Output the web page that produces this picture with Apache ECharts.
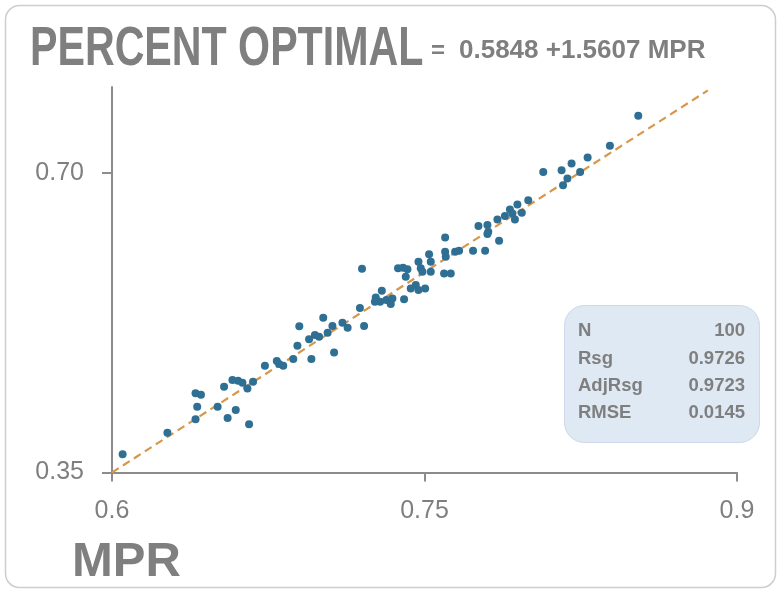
<!DOCTYPE html>
<html>
<head>
<meta charset="utf-8">
<script src="https://cdn.jsdelivr.net/npm/echarts@6/dist/echarts.min.js"></script>
<style>
html,body{margin:0;padding:0;background:#fff;}
#chart{width:779px;height:591px;}
</style>
</head>
<body>
<div id="chart"></div>
<script>
// ---- data ----
const mpr = [0.6051,0.6266,0.6401,0.6409,0.6401,0.6427,0.6507,0.6555,0.6594,0.6538,
  0.6578,0.6605,0.6626,0.6650,0.6658,0.6677,0.6734,0.6791,0.6802,0.6822,
  0.6870,0.6890,0.6957,0.6899,0.6946,0.6974,0.6994,0.7014,0.7035,0.7058,
  0.7066,0.7106,0.7131,0.7190,0.7210,0.7200,0.7266,0.7295,0.7287,0.7262,
  0.7317,0.7338,0.7346,0.7402,0.7373,0.7397,0.7418,0.7410,0.7434,0.7458,
  0.7471,0.7471,0.7482,0.7503,0.7522,0.7530,0.7530,0.7490,0.7599,0.7599,
  0.7602,0.7647,0.7666,0.7733,0.7791,0.7594,0.7626,0.7858,0.7759,0.7802,
  0.7806,0.7802,0.7850,0.7886,0.7910,0.7922,0.7934,0.7946,0.7967,0.7998,
  0.8070,0.8158,0.8206,0.8165,0.8186,0.8247,0.8283,0.8390,0.8526];
const percentOptimal = [0.3712,0.3964,0.4121,0.4268,0.4424,0.4408,0.4268,0.4136,0.4229,0.4501,
  0.4579,0.4571,0.4548,0.4482,0.4062,0.4559,0.4746,0.4801,0.4766,0.4746,
  0.4824,0.4980,0.4824,0.5206,0.5054,0.5104,0.5085,0.5306,0.5131,0.5209,
  0.4902,0.5248,0.5190,0.5419,0.5209,0.5878,0.5544,0.5621,0.5493,0.5493,
  0.5513,0.5466,0.5532,0.5521,0.5883,0.5890,0.5874,0.5785,0.5649,0.5688,
  0.5629,0.5960,0.5883,0.5649,0.6049,0.5960,0.5843,0.5843,0.6244,0.6076,
  0.6018,0.6076,0.6088,0.6088,0.6088,0.5824,0.5824,0.6204,0.6376,0.6388,
  0.6310,0.6283,0.6454,0.6493,0.6571,0.6524,0.6454,0.6629,0.6531,0.6679,
  0.7009,0.7029,0.7107,0.6854,0.6932,0.7009,0.7177,0.7313,0.7663];
const fitMpr = [0.6, 0.886];
const fitPercent = [0.35, 0.796];
const xTickLabels = ['0.6', '0.75', '0.9'];
const yTickLabels = ['0.35', '0.70'];
const statNames = ['N', 'Rsg', 'AdjRsg', 'RMSE'];
const statValues = ['100', '0.9726', '0.9723', '0.0145'];
const titleText = 'PERCENT OPTIMAL';
const equationText = '0.5848 +1.5607 MPR';
const xAxisTitle = 'MPR';

// ---- chart ----
const grey = '#7f7f7f';
const axisGrey = '#8c8c8c';
const FONT = 'Liberation Sans, Arial, sans-serif';
const chart = echarts.init(document.getElementById('chart'), null, {renderer: 'canvas'});

const points = mpr.map((x, i) => [x, percentOptimal[i]]);
const fitLine = fitMpr.map((x, i) => [x, fitPercent[i]]);

const statRowsY = [331, 359, 386, 413];
const statGraphics = [];
statNames.forEach((n, i) => {
  statGraphics.push({type: 'text', x: 578, y: statRowsY[i], z: 10,
    style: {text: n, fontSize: 18.5, fontWeight: 'bold', fontFamily: FONT,
      fill: grey, textAlign: 'left', textVerticalAlign: 'middle', align: 'left', verticalAlign: 'middle'}});
  statGraphics.push({type: 'text', x: 745, y: statRowsY[i], z: 10,
    style: {text: statValues[i], fontSize: 18.5, fontWeight: 'bold', fontFamily: FONT,
      fill: grey, textAlign: 'right', textVerticalAlign: 'middle', align: 'right', verticalAlign: 'middle'}});
});

const option = {
  animation: false,
  backgroundColor: '#ffffff',
  grid: {left: 112, right: 42, top: 87, bottom: 118.5, containLabel: false},
  xAxis: {
    type: 'value', min: 0.6, max: 0.9, interval: 0.15,
    axisLine: {show: true, lineStyle: {color: axisGrey, width: 2}},
    axisTick: {show: true, length: 9, lineStyle: {color: axisGrey, width: 2}},
    splitLine: {show: false},
    axisLabel: {
      margin: 26, fontSize: 25, color: grey, fontFamily: FONT,
      formatter: v => xTickLabels[Math.round((v - 0.6) / 0.15)] || ''
    }
  },
  yAxis: {
    type: 'value', min: 0.35, max: 0.8, interval: 0.35,
    axisLine: {show: true, lineStyle: {color: axisGrey, width: 2}},
    axisTick: {show: true, length: 10, lineStyle: {color: axisGrey, width: 2}},
    splitLine: {show: false},
    axisLabel: {
      margin: 28, fontSize: 25, color: grey, fontFamily: FONT,
      showMaxLabel: false,
      formatter: v => yTickLabels[Math.round((v - 0.35) / 0.35)] || ''
    }
  },
  series: [
    {
      type: 'line', data: fitLine, symbol: 'none', z: 3,
      lineStyle: {color: '#d8964a', width: 2.2, type: [8, 5]}
    },
    {
      type: 'scatter', data: points, symbolSize: 8, z: 4,
      itemStyle: {color: '#2e6f93', opacity: 1}
    }
  ],
  graphic: [
    {type: 'rect', shape: {x: 5.5, y: 5.5, width: 770, height: 582, r: 14}, z: -10, silent: true,
      style: {fill: 'none', stroke: '#cdcdcd', lineWidth: 1.5}},
    {type: 'text', x: 30, y: 50, scaleX: 0.735, scaleY: 1, originX: 0, originY: 0,
      style: {text: titleText, fontSize: 56, fontWeight: 'bold', fontFamily: FONT,
        fill: grey, textAlign: 'left', textVerticalAlign: 'middle', align: 'left', verticalAlign: 'middle'}},
    {type: 'text', x: 431, y: 51,
      style: {text: '=', fontSize: 24, fontWeight: 'bold', fontFamily: FONT,
        fill: grey, textAlign: 'left', textVerticalAlign: 'middle', align: 'left', verticalAlign: 'middle'}},
    {type: 'text', x: 459, y: 51,
      style: {text: equationText, fontSize: 26, fontWeight: 'bold', fontFamily: FONT,
        fill: grey, textAlign: 'left', textVerticalAlign: 'middle', align: 'left', verticalAlign: 'middle'}},
    {type: 'text', x: 72, y: 562,
      style: {text: xAxisTitle, fontSize: 49, fontWeight: 'bold', fontFamily: FONT,
        fill: grey, textAlign: 'left', textVerticalAlign: 'middle', align: 'left', verticalAlign: 'middle'}},
    {type: 'rect', shape: {x: 564.5, y: 305.5, width: 195, height: 137, r: 20}, z: 5, silent: true,
      style: {fill: '#dfe9f4', stroke: '#cbd9e8', lineWidth: 1}}
  ].concat(statGraphics)
};
chart.setOption(option);
</script>
</body>
</html>
